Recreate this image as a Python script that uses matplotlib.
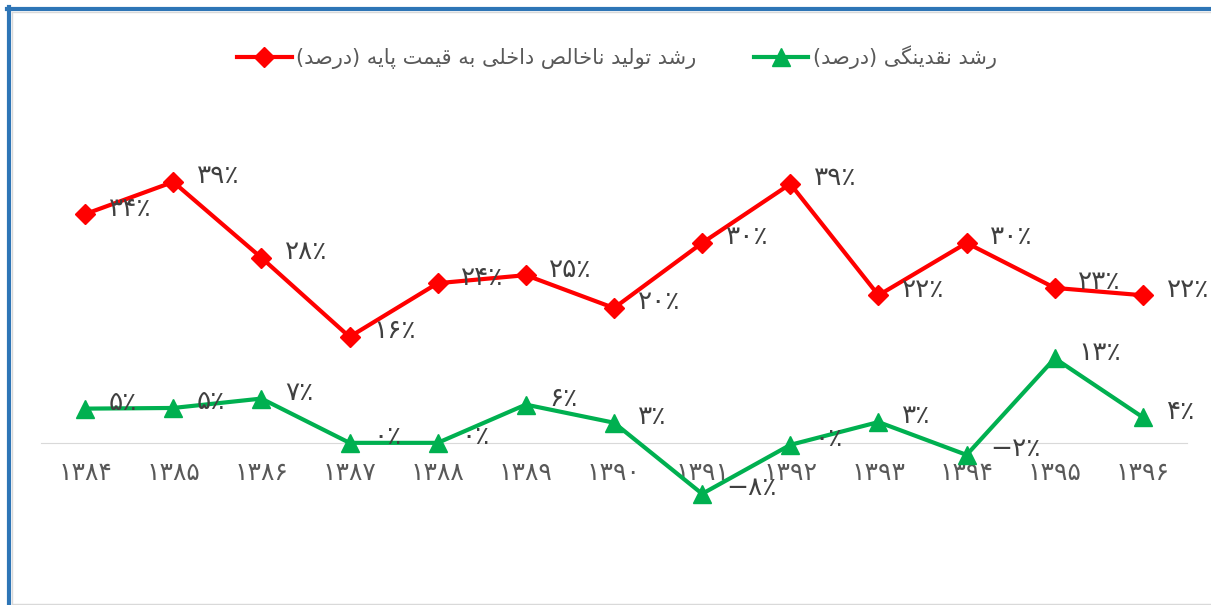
import matplotlib.pyplot as plt
from matplotlib.lines import Line2D

# data
years = ['۱۳۸۴', '۱۳۸۵', '۱۳۸۶', '۱۳۸۷', '۱۳۸۸', '۱۳۸۹', '۱۳۹۰',
         '۱۳۹۱', '۱۳۹۲', '۱۳۹۳', '۱۳۹۴', '۱۳۹۵', '۱۳۹۶']
gdp_growth = [34.1, 38.9, 27.6, 15.8, 23.8, 25.0, 20.1, 29.8, 38.6, 22.0, 29.8, 23.1, 22.0]
liquidity_growth = [5.1, 5.2, 6.6, 0.0, 0.0, 5.7, 3.0, -7.6, -0.3, 3.1, -1.8, 12.6, 3.8]
gdp_name = 'رشد تولید ناخالص داخلی به قیمت پایه (درصد)'
liq_name = 'رشد نقدینگی (درصد)'

# simple arabic/persian shaping (no bidi support in matplotlib)
FORMS = {
    'ا': ('\uFE8D', '\uFE8E', None, None),
    'ب': ('\uFE8F', '\uFE90', '\uFE91', '\uFE92'),
    'پ': ('\uFB56', '\uFB57', '\uFB58', '\uFB59'),
    'ت': ('\uFE95', '\uFE96', '\uFE97', '\uFE98'),
    'خ': ('\uFEA5', '\uFEA6', '\uFEA7', '\uFEA8'),
    'د': ('\uFEA9', '\uFEAA', None, None),
    'ر': ('\uFEAD', '\uFEAE', None, None),
    'ش': ('\uFEB5', '\uFEB6', '\uFEB7', '\uFEB8'),
    'ص': ('\uFEB9', '\uFEBA', '\uFEBB', '\uFEBC'),
    'ق': ('\uFED5', '\uFED6', '\uFED7', '\uFED8'),
    'گ': ('\uFB92', '\uFB93', '\uFB94', '\uFB95'),
    'ل': ('\uFEDD', '\uFEDE', '\uFEDF', '\uFEE0'),
    'م': ('\uFEE1', '\uFEE2', '\uFEE3', '\uFEE4'),
    'ن': ('\uFEE5', '\uFEE6', '\uFEE7', '\uFEE8'),
    'ه': ('\uFEE9', '\uFEEA', '\uFEEB', '\uFEEC'),
    'و': ('\uFEED', '\uFEEE', None, None),
    'ی': ('\uFBFC', '\uFBFD', '\uFBFE', '\uFBFF'),
}


def shape(s):
    out = []
    for i, c in enumerate(s):
        if c not in FORMS:
            out.append(c)
            continue
        prev = s[i - 1] if i > 0 else ''
        nxt = s[i + 1] if i + 1 < len(s) else ''
        jp = prev in FORMS and FORMS[prev][2] is not None
        jn = nxt in FORMS and FORMS[c][2] is not None
        iso, fin, ini, med = FORMS[c]
        if jp and jn:
            out.append(med)
        elif jp:
            out.append(fin)
        elif jn:
            out.append(ini)
        else:
            out.append(iso)
    mirror = {'(': ')', ')': '('}
    return ''.join(mirror.get(ch, ch) for ch in reversed(out))


def fa_pct(v):
    n = int(round(v))
    digits = ''.join('۰۱۲۳۴۵۶۷۸۹'[int(d)] for d in str(abs(n)))
    return ('−' if n < 0 else '') + digits + '٪'


plt.rcParams['font.family'] = ['DejaVu Sans']

fig = plt.figure(figsize=(12.11, 6.05), dpi=100)
ax = fig.add_axes([41 / 1211, 28 / 605, 1146 / 1211, 436 / 605])

red = '#FF0000'
green = '#00B050'
x = range(len(years))
ax.plot(x, gdp_growth, color=red, lw=3, marker='D', ms=10, zorder=3, label=shape(gdp_name))
ax.plot(x, liquidity_growth, color=green, lw=3, marker='^', ms=13, zorder=3, label=shape(liq_name))

for i, v in enumerate(gdp_growth):
    ax.annotate(fa_pct(v), (i, v), xytext=(17, 4), textcoords='offset points',
                ha='left', va='center', fontsize=19, color='#404040')
for i, v in enumerate(liquidity_growth):
    ax.annotate(fa_pct(v), (i, v), xytext=(17, 4), textcoords='offset points',
                ha='left', va='center', fontsize=19, color='#404040')

ax.set_xlim(-0.5, len(years) - 0.5)
ax.set_ylim(-20, 45)
for s in ['top', 'left', 'right']:
    ax.spines[s].set_visible(False)
ax.spines['bottom'].set_position(('data', 0))
ax.spines['bottom'].set_color('#D9D9D9')
ax.set_xticks(list(x))
ax.set_xticklabels(years)
ax.set_yticks([])
ax.tick_params(axis='x', length=0, pad=13, labelsize=18, labelcolor='#595959')

fig.legend(loc='center', bbox_to_anchor=(617 / 1211, 1 - 57 / 605), ncol=2,
           frameon=False, fontsize=15, handlelength=2.6, handletextpad=0.2,
           columnspacing=2.8, labelcolor='#595959')

# chart frame
fig.add_artist(Line2D([9 / 1211, 9 / 1211], [0, 1 - 7 / 605], transform=fig.transFigure, color='#2E75B6', lw=3))
fig.add_artist(Line2D([7 / 1211, 1], [1 - 9 / 605, 1 - 9 / 605], transform=fig.transFigure, color='#2E75B6', lw=3))
fig.add_artist(Line2D([12 / 1211, 1], [1 - 12 / 605] * 2, transform=fig.transFigure, color='#D9D9D9', lw=1))
fig.add_artist(Line2D([12 / 1211] * 2, [0, 1 - 12 / 605], transform=fig.transFigure, color='#D9D9D9', lw=1))
fig.add_artist(Line2D([12 / 1211, 1], [1 / 605] * 2, transform=fig.transFigure, color='#D9D9D9', lw=1))

fig.savefig('out.png', dpi=100)
